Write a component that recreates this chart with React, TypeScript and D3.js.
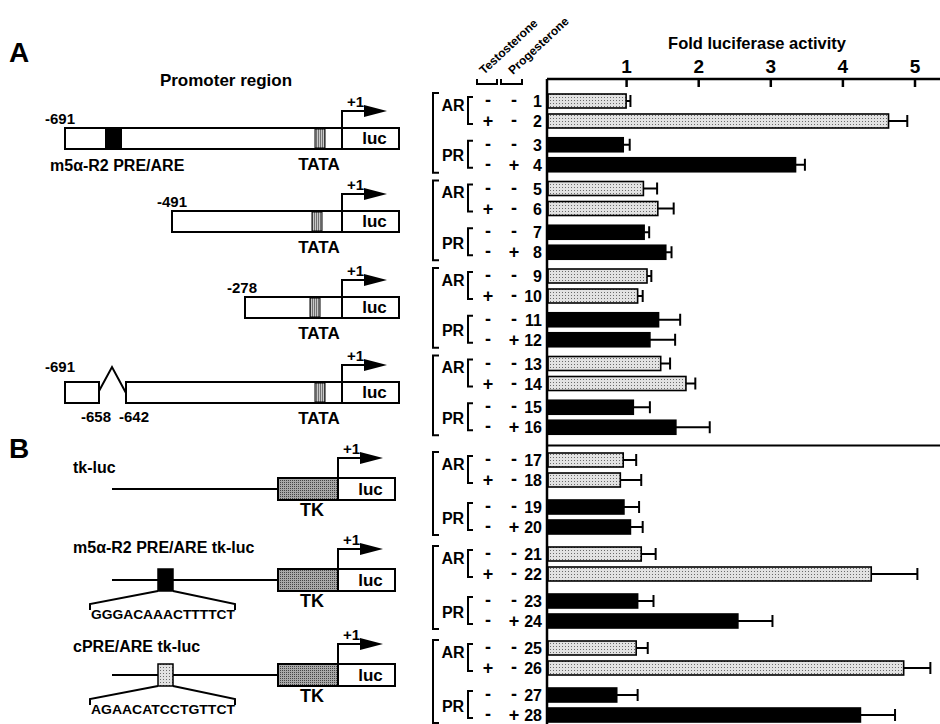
import React, {useEffect, useRef} from "react";
import * as d3 from "d3";

// constructs tested (one group of four bars per construct)
const CONSTRUCTS = [
  "-691 luc",
  "-491 luc",
  "-278 luc",
  "-691 del(-658/-642) luc",
  "tk-luc",
  "m5α-R2 PRE/ARE tk-luc",
  "cPRE/ARE tk-luc",
];
const PANELS = ["A", "A", "A", "A", "B", "B", "B"];
const RECEPTORS = ["AR", "PR"];
const TESTOSTERONE = ["-", "+", "-", "-"];
const PROGESTERONE = ["-", "-", "-", "+"];

// fold luciferase activity, rows 1..28
const FOLD = [
  1.0, 4.64, 0.96, 3.35, 1.24, 1.44, 1.25, 1.55, 1.29, 1.16, 1.45, 1.33, 1.48,
  1.83, 1.1, 1.69, 0.96, 0.92, 0.97, 1.06, 1.21, 4.4, 1.16, 2.55, 1.14, 4.85,
  0.87, 4.25,
];
// error (upper whisker length)
const SD = [
  0.06, 0.26, 0.09, 0.13, 0.19, 0.22, 0.07, 0.08, 0.06, 0.07, 0.3, 0.35, 0.13,
  0.13, 0.23, 0.47, 0.18, 0.29, 0.21, 0.17, 0.2, 0.64, 0.22, 0.48, 0.16, 0.37,
  0.29, 0.48,
];
const TICKS = [1, 2, 3, 4, 5];

const START_LABELS = ["-691", "-491", "-278", "-691"];
const SEQUENCES = ["", "GGGACAAACTTTTCT", "AGAACATCCTGTTCT"];
const B_LABELS = ["tk-luc", "m5α-R2 PRE/ARE tk-luc", "cPRE/ARE tk-luc"];

const FONT = "'Liberation Sans', Arial, Helvetica, sans-serif";

function txt(g: any, x: number, y: number, s: string, size: number, anchor = "start") {
  return g
    .append("text")
    .attr("x", x)
    .attr("y", y)
    .attr("font-family", FONT)
    .attr("font-weight", "bold")
    .attr("font-size", size)
    .attr("text-anchor", anchor)
    .text(s);
}

function tssArrow(g: any, x0: number, top: number, rise: number) {
  g.append("path")
    .attr("d", `M${x0},${top} V${top - rise} H${x0 + 24}`)
    .attr("fill", "none")
    .attr("stroke", "#000")
    .attr("stroke-width", 2);
  g.append("path")
    .attr("d", `M${x0 + 22},${top - rise - 6} L${x0 + 45},${top - rise} L${x0 + 22},${top - rise + 6} Z`)
    .attr("fill", "#000");
  txt(g, x0 + 5, top - rise - 4, "+1", 15);
}

function drawChart(node: SVGSVGElement) {
  const svg = d3.select(node);
  svg.selectAll("*").remove();

  const defs = svg.append("defs");
  const p1 = defs
    .append("pattern")
    .attr("id", "stipple")
    .attr("width", 3)
    .attr("height", 3)
    .attr("patternUnits", "userSpaceOnUse");
  p1.append("rect").attr("width", 3).attr("height", 3).attr("fill", "#e2e2e2");
  p1.append("rect").attr("x", 1).attr("y", 1).attr("width", 1).attr("height", 1).attr("fill", "#6a6a6a");
  const p2 = defs
    .append("pattern")
    .attr("id", "tk")
    .attr("width", 2)
    .attr("height", 2)
    .attr("patternUnits", "userSpaceOnUse");
  p2.append("rect").attr("width", 2).attr("height", 2).attr("fill", "#a8a8a8");
  p2.append("rect").attr("width", 1).attr("height", 1).attr("fill", "#444");
  const p3 = defs
    .append("pattern")
    .attr("id", "tata")
    .attr("width", 2)
    .attr("height", 2)
    .attr("patternUnits", "userSpaceOnUse");
  p3.append("rect").attr("width", 2).attr("height", 2).attr("fill", "#c8c8c8");
  p3.append("rect").attr("width", 1).attr("height", 2).attr("fill", "#707070");

  // ---------- bar chart ----------
  const x = d3.scaleLinear().domain([0, 5]).range([554, 914.5]);
  const axisX = 547;
  const axisY = 79;

  const groupsA = CONSTRUCTS.map((_, i) => i).filter((i) => PANELS[i] === "A");
  const groupsB = CONSTRUCTS.map((_, i) => i).filter((i) => PANELS[i] === "B");
  const yA = d3.scaleBand<number>().domain(groupsA).range([91, 441]);
  const yB = d3.scaleBand<number>().domain(groupsB).range([450, 732]);
  const sub = d3.scaleBand<number>().domain([0, 1]).range([0, 40]);
  const groupScale = (g: number) => (PANELS[g] === "A" ? yA : yB);
  const recScale = (g: number) =>
    d3.scaleBand<string>().domain(RECEPTORS).range([0, groupScale(g).bandwidth()]);

  const rows = FOLD.map((v, i) => {
    const g = Math.floor(i / 4);
    const k = i % 4;
    return {
      id: i + 1,
      group: g,
      receptor: RECEPTORS[Math.floor(k / 2)],
      sub: k % 2,
      t: TESTOSTERONE[k],
      p: PROGESTERONE[k],
      value: v,
      sd: SD[i],
    };
  });
  const rowY = (r: any) =>
    (groupScale(r.group)(r.group) as number) +
    (recScale(r.group)(r.receptor) as number) +
    (sub(r.sub) as number) +
    sub.bandwidth() / 2;

  const bars = svg.append("g");
  bars
    .selectAll("rect")
    .data(rows)
    .join("rect")
    .attr("x", axisX + 1)
    .attr("y", (r) => rowY(r) - 7)
    .attr("width", (r) => x(r.value) - axisX - 1)
    .attr("height", 14)
    .attr("fill", (r) => (r.receptor === "AR" ? "url(#stipple)" : "#000"))
    .attr("stroke", "#000")
    .attr("stroke-width", 1.6);

  const err = svg.append("g").attr("stroke", "#000").attr("stroke-width", 2);
  err
    .selectAll("line.w")
    .data(rows)
    .join("line")
    .attr("x1", (r) => x(r.value))
    .attr("x2", (r) => x(r.value + r.sd))
    .attr("y1", (r) => rowY(r))
    .attr("y2", (r) => rowY(r));
  err
    .selectAll("line.c")
    .data(rows)
    .join("line")
    .attr("x1", (r) => x(r.value + r.sd))
    .attr("x2", (r) => x(r.value + r.sd))
    .attr("y1", (r) => rowY(r) - 6)
    .attr("y2", (r) => rowY(r) + 6);

  // axes
  const axis = d3
    .axisTop(x)
    .tickValues(TICKS)
    .tickSize(-8)
    .tickPadding(6)
    .tickFormat(d3.format("d"));
  const ag = svg.append("g").attr("transform", `translate(0,${axisY})`).call(axis);
  ag.select(".domain").remove();
  ag.selectAll("line").attr("stroke-width", 2.5);
  ag.selectAll("text")
    .attr("font-family", FONT)
    .attr("font-weight", "bold")
    .attr("font-size", 19)
    .attr("fill", "#000");

  svg.append("line")
    .attr("x1", axisX).attr("x2", 940).attr("y1", axisY).attr("y2", axisY)
    .attr("stroke", "#000").attr("stroke-width", 2.5);
  svg.append("line")
    .attr("x1", axisX).attr("x2", axisX).attr("y1", axisY).attr("y2", 724)
    .attr("stroke", "#000").attr("stroke-width", 2.5);
  const sep = (yA.range()[1] + yB.range()[0]) / 2;
  svg.append("line")
    .attr("x1", axisX).attr("x2", 940).attr("y1", sep).attr("y2", sep)
    .attr("stroke", "#000").attr("stroke-width", 2);

  txt(svg, 757, 49, "Fold luciferase activity", 16.5, "middle");

  // treatment column headers
  [
    {s: "Testosterone", x: 484, b: [477, 497]},
    {s: "Progesterone", x: 513, b: [501, 522]},
  ].forEach((h) => {
    txt(svg, 0, 0, h.s, 12).attr("transform", `translate(${h.x},75) rotate(-43)`);
    svg.append("path")
      .attr("d", `M${h.b[0]},79 V84 H${h.b[1]} V79`)
      .attr("fill", "none").attr("stroke", "#000").attr("stroke-width", 2);
  });

  // row labels
  const lab = svg.append("g");
  rows.forEach((r) => {
    const y = rowY(r) + 5;
    txt(lab, 488, y + (r.t === "+" ? 1 : 0), r.t, r.t === "+" ? 18 : 18, "middle");
    txt(lab, 514, y + (r.p === "+" ? 1 : 0), r.p, r.p === "+" ? 18 : 18, "middle");
    txt(lab, 542, y + 1, String(r.id), 16, "end");
  });

  // brackets
  CONSTRUCTS.forEach((_, g) => {
    const gr = rows.filter((r) => r.group === g);
    const top = rowY(gr[0]) - 8;
    const bot = rowY(gr[3]) + 8;
    svg.append("path")
      .attr("d", `M439,${top} H433 V${bot} H439`)
      .attr("fill", "none").attr("stroke", "#000").attr("stroke-width", 2);
    RECEPTORS.forEach((rec, ri) => {
      const rr = gr.filter((r) => r.receptor === rec);
      const t = rowY(rr[0]) - 4;
      const b = rowY(rr[1]) + 3;
      svg.append("path")
        .attr("d", `M473,${t} H468 V${b} H473`)
        .attr("fill", "none").attr("stroke", "#000").attr("stroke-width", 2);
      const mid = (t + b) / 2 + (ri === 0 ? 0 : 7);
      txt(svg, 453, mid, rec, 16, "middle");
    });
  });

  // ---------- left: constructs ----------
  txt(svg, 9, 62, "A", 28);
  txt(svg, 9, 458, "B", 28);
  txt(svg, 226, 86, "Promoter region", 17, "middle");

  const dg = svg.append("g");
  const boxH = 21;
  const lucX = 342;
  const endX = 399;
  const tops = [128, 211, 297, 382];
  const starts = [65, 172, 245, 65];
  const labelX = [45, 157, 227, 45];
  tops.forEach((top, i) => {
    const st = starts[i];
    if (i === 3) {
      dg.append("rect").attr("x", st).attr("y", top).attr("width", 34).attr("height", boxH)
        .attr("fill", "#fff").attr("stroke", "#000").attr("stroke-width", 2);
      dg.append("path").attr("d", `M${st + 34},${top + 9} L${st + 47},${top - 15} L${st + 61},${top + 11}`)
        .attr("fill", "none").attr("stroke", "#000").attr("stroke-width", 2);
      dg.append("rect").attr("x", st + 61).attr("y", top).attr("width", endX - st - 61).attr("height", boxH)
        .attr("fill", "#fff").attr("stroke", "#000").attr("stroke-width", 2);
      txt(dg, 81, top + 40, "-658", 15);
      txt(dg, 119, top + 40, "-642", 15);
    } else {
      dg.append("rect").attr("x", st).attr("y", top).attr("width", endX - st).attr("height", boxH)
        .attr("fill", "#fff").attr("stroke", "#000").attr("stroke-width", 2);
    }
    if (i === 0) {
      dg.append("rect").attr("x", 105).attr("y", top).attr("width", 17).attr("height", boxH).attr("fill", "#000");
      txt(dg, 50, top + 43, "m5α-R2 PRE/ARE", 16);
    }
    const tx = i === 1 ? 312 : i === 2 ? 310 : 315;
    dg.append("rect").attr("x", tx).attr("y", top + 1).attr("width", 10).attr("height", boxH - 2)
      .attr("fill", "url(#tata)").attr("stroke", "#000").attr("stroke-width", 1);
    dg.append("line").attr("x1", lucX).attr("x2", lucX).attr("y1", top).attr("y2", top + boxH)
      .attr("stroke", "#000").attr("stroke-width", 2);
    txt(dg, (lucX + endX) / 2 + 4, top + 16, "luc", 17, "middle");
    txt(dg, 319, top + 42, "TATA", 17, "middle");
    txt(dg, labelX[i], top - 4 - (i === 3 ? 6 : 0), START_LABELS[i], 15);
    tssArrow(dg, lucX, top, 17);
  });

  // panel B constructs
  const btops = [478, 569, 664];
  const tkX = 278;
  const bluc = 338;
  const bend = 395;
  btops.forEach((top, i) => {
    const mid = top + 11;
    txt(dg, 73, top - 5 - (i === 1 ? 11 : i === 2 ? 7 : 0), B_LABELS[i], 16);
    dg.append("line").attr("x1", 112).attr("x2", tkX).attr("y1", mid).attr("y2", mid)
      .attr("stroke", "#000").attr("stroke-width", 2);
    dg.append("rect").attr("x", tkX).attr("y", top).attr("width", bluc - tkX).attr("height", 22)
      .attr("fill", "url(#tk)").attr("stroke", "#000").attr("stroke-width", 2);
    dg.append("rect").attr("x", bluc).attr("y", top).attr("width", bend - bluc).attr("height", 22)
      .attr("fill", "#fff").attr("stroke", "#000").attr("stroke-width", 2);
    txt(dg, (bluc + bend) / 2 + 4, top + 17, "luc", 17, "middle");
    txt(dg, 312, top + 38, "TK", 18, "middle");
    tssArrow(dg, bluc, top, 20);
    if (SEQUENCES[i]) {
      dg.append("rect").attr("x", 158).attr("y", mid - 11).attr("width", 15).attr("height", 22)
        .attr("fill", i === 1 ? "#000" : "url(#stipple)").attr("stroke", "#000").attr("stroke-width", 1.5);
      dg.append("path")
        .attr("d", `M158,${mid + 11} L90,${mid + 24} V${mid + 30} M173,${mid + 11} L235,${mid + 24} V${mid + 30}`)
        .attr("fill", "none").attr("stroke", "#000").attr("stroke-width", 2);
      txt(dg, 91, mid + 39, SEQUENCES[i], 13).attr("textLength", 144).attr("lengthAdjust", "spacingAndGlyphs");
    }
  });
}

export default function App() {
  const ref = useRef<SVGSVGElement>(null);
  useEffect(() => {
    if (ref.current) drawChart(ref.current);
  }, []);
  return (
    <svg
      ref={ref}
      width={940}
      height={724}
      style={{position: "absolute", left: 0, top: 0, background: "#fff"}}
    />
  );
}
